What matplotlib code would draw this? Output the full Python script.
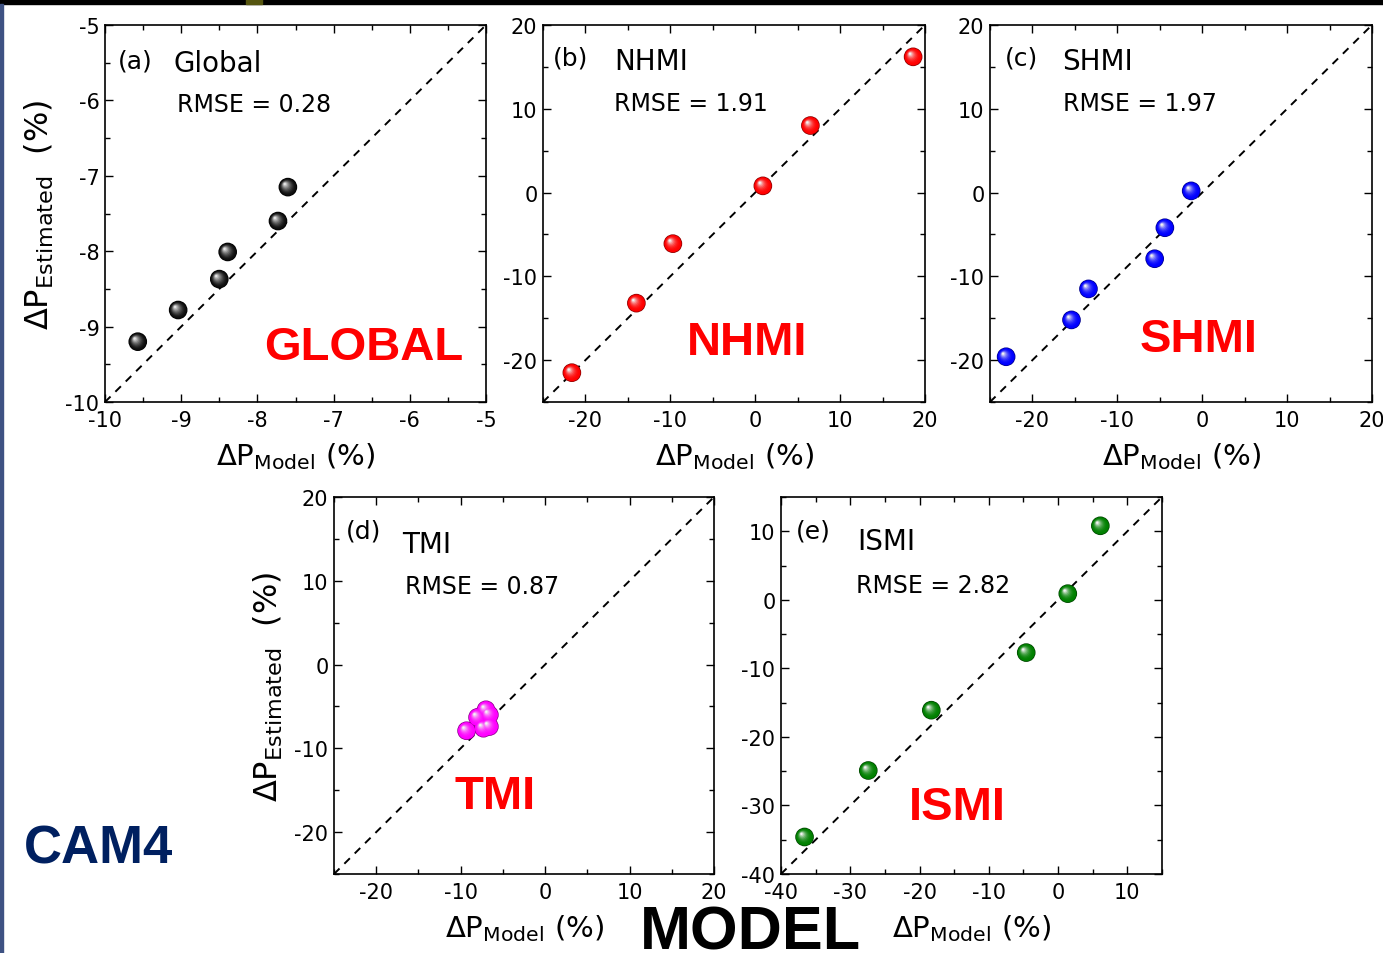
"""Estimated vs. model precipitation change for CAM4 (five regions)."""
import matplotlib

matplotlib.use("Agg")
import matplotlib.pyplot as plt  # noqa: E402
import matplotlib.transforms as mtransforms  # noqa: E402
import numpy as np  # noqa: E402
from matplotlib.colors import to_rgb  # noqa: E402
from matplotlib.patches import Rectangle  # noqa: E402
from matplotlib.ticker import MultipleLocator  # noqa: E402

# ---- data --------------------------------------------------------------------
global_model = [-9.57, -9.04, -8.50, -8.39, -7.73, -7.60]
global_est = [-9.20, -8.78, -8.37, -8.01, -7.60, -7.15]

nhmi_model = [-21.6, -14.0, -9.7, 0.9, 6.5, 18.6]
nhmi_est = [-21.5, -13.2, -6.1, 0.8, 8.0, 16.2]

shmi_model = [-23.1, -15.4, -13.4, -5.6, -4.4, -1.3]
shmi_est = [-19.6, -15.2, -11.5, -7.9, -4.2, 0.2]

tmi_model = [-6.6, -7.3, -6.6, -9.3, -8.0, -7.0]
tmi_est = [-7.4, -7.6, -6.0, -7.9, -6.3, -5.4]

ismi_model = [-36.6, -27.4, -18.3, -4.6, 1.4, 6.1]
ismi_est = [-34.6, -24.9, -16.1, -7.7, 0.9, 10.8]

region_names = ["Global", "NHMI", "SHMI", "TMI", "ISMI"]
region_tags = ["GLOBAL", "NHMI", "SHMI", "TMI", "ISMI"]
panel_letters = ["(a)", "(b)", "(c)", "(d)", "(e)"]
rmse_values = [0.28, 1.91, 1.97, 0.87, 2.82]

plt.rcParams["mathtext.fontset"] = "dejavusans"
plt.rcParams["axes.unicode_minus"] = False
W, H = 1383, 954


def px_axes(fig, left, right, top, bottom):
    return fig.add_axes([left / W, 1 - bottom / H, (right - left) / W, (bottom - top) / H])


def sphere(ax, xs, ys, color, s=180):
    """Fake a shaded ball with stacked, shifted circles."""
    base = np.array(to_rgb(color))
    dark = base * 0.55
    ax.scatter(xs, ys, s=s, color=dark, edgecolors="none", zorder=3)
    n = 10
    for i in range(n):
        t = i / (n - 1)
        size = s * (0.92 - 0.8 * t) ** 2
        c = base * (1 - t ** 2.2) + np.ones(3) * t ** 2.2 * 0.95
        if base.sum() < 0.1:
            c = np.ones(3) * (0.05 + 0.85 * t ** 1.6)
        off = mtransforms.offset_copy(ax.transData, fig=ax.figure,
                                      x=-2.2 * t, y=2.2 * t, units="points")
        ax.scatter(xs, ys, s=size, color=c, edgecolors="none",
                   transform=off, zorder=3 + i * 0.01)


fig = plt.figure(figsize=(W / 100, H / 100), dpi=100)

specs = [
    # pixel box, limits, major step, data, colour, text positions
    ((105, 486, 26, 403), (-10, -5), 1, global_model, global_est, "black",
     (0.034, 0.905), (0.18, 0.90), (0.19, 0.79), (0.68, 0.146)),
    ((543, 925, 26, 403), (-25, 20), 10, nhmi_model, nhmi_est, "#ff0000",
     (0.026, 0.915), (0.186, 0.905), (0.186, 0.793), (0.534, 0.159)),
    ((990, 1372, 26, 403), (-25, 20), 10, shmi_model, shmi_est, "#0000ff",
     (0.039, 0.915), (0.19, 0.905), (0.19, 0.793), (0.547, 0.167)),
    ((334, 714, 498, 875), (-25, 20), 10, tmi_model, tmi_est, "#ff00ff",
     (0.032, 0.91), (0.18, 0.875), (0.187, 0.764), (0.424, 0.207)),
    ((781, 1162, 498, 875), (-40, 15), 10, ismi_model, ismi_est, "#008000",
     (0.04, 0.912), (0.20, 0.883), (0.197, 0.767), (0.462, 0.178)),
]

for k, (box, lims, step, xm, ye, col, p_let, p_name, p_rmse, p_tag) in enumerate(specs):
    ax = px_axes(fig, *box)
    ax.set_xlim(lims)
    ax.set_ylim(lims)
    ax.plot(lims, lims, ls=(0, (4, 3.5)), color="black", lw=1.4, zorder=2)
    sphere(ax, xm, ye, col)

    ax.xaxis.set_major_locator(MultipleLocator(step))
    ax.yaxis.set_major_locator(MultipleLocator(step))
    ax.xaxis.set_minor_locator(MultipleLocator(step / 2))
    ax.yaxis.set_minor_locator(MultipleLocator(step / 2))
    ax.tick_params(which="both", direction="in", top=True, right=True,
                   labelsize=15, width=1.0)
    ax.tick_params(axis="x", pad=6)
    ax.tick_params(axis="y", pad=4)
    ax.tick_params(which="major", length=6)
    ax.tick_params(which="minor", length=3.5)
    for sp in ax.spines.values():
        sp.set_linewidth(1.2)

    ax.set_xlabel(r"$\Delta\mathrm{P}_{\mathrm{Model}}$ (%)", fontsize=21, labelpad=7)
    if k in (0, 3):
        ax.set_ylabel(r"$\Delta\mathrm{P}_{\mathrm{Estimated}}$  (%)", fontsize=23, labelpad=7)

    ax.text(*p_let, panel_letters[k], transform=ax.transAxes, fontsize=18, va="center")
    ax.text(*p_name, region_names[k], transform=ax.transAxes, fontsize=20, va="center")
    ax.text(*p_rmse, f"RMSE = {rmse_values[k]:.2f}", transform=ax.transAxes,
            fontsize=17, va="center")
    ax.text(*p_tag, region_tags[k], transform=ax.transAxes, fontsize=34,
            fontweight="bold", color="#ff0000", ha="center", va="center",
            family="Liberation Sans")

fig.text(98 / W, 1 - 850 / H, "CAM4", fontsize=38, fontweight="bold",
         color="#002060", ha="center", va="center", family="Liberation Sans")
fig.text(750 / W, 1 - 950 / H, "MODEL", fontsize=44, fontweight="bold",
         color="black", ha="center", va="baseline", family="Liberation Sans")

# slide frame remnants: black bar on top, thin navy strip on the left
fig.patches.append(Rectangle((0, 1 - 5 / H), 1, 5 / H, transform=fig.transFigure,
                             color="black", zorder=10))
fig.patches.append(Rectangle((246 / W, 1 - 5 / H), 16 / W, 5 / H,
                             transform=fig.transFigure, color="#55550f", zorder=11))
fig.patches.append(Rectangle((0, 0), 3 / W, 1 - 5 / H, transform=fig.transFigure,
                             color="#3e5283", zorder=10))

fig.savefig("out.png", dpi=100)
